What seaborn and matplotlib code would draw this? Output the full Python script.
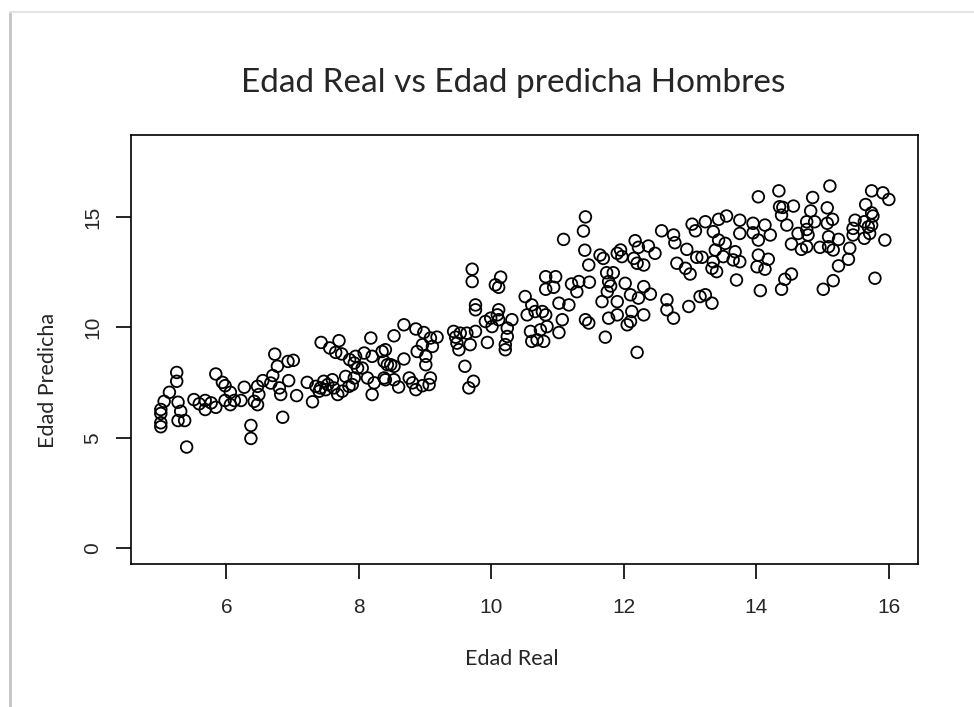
import seaborn as sns
import matplotlib.pyplot as plt
from matplotlib.lines import Line2D

# valores (edad real vs edad predicha, hombres)
edad_real = [
    5.25, 5.25, 5.84, 5.94, 5.98, 5.14, 5.06, 5.01, 5.01, 5.01, 5.01, 5.27, 5.31, 5.27, 5.37,
    5.51, 5.59, 5.68, 5.68, 5.77, 5.84, 5.98, 6.06, 6.06, 6.12, 6.22, 6.27, 6.42, 5.40, 6.37, 6.37,
    6.73, 6.77, 6.93, 7.01, 6.70, 6.55, 6.47, 6.49, 6.47, 6.67, 6.80, 6.82, 6.94, 7.06, 7.22,
    7.30, 7.35, 7.40, 7.42, 7.47, 7.50, 7.53, 7.60, 7.62, 7.68, 7.75, 7.80, 7.85, 7.90, 7.93,
    7.43, 7.70, 7.56, 7.65, 7.74, 7.86, 7.93, 7.95, 8.08, 8.18, 8.20, 7.98, 8.05, 8.13, 8.23,
    8.20, 8.35, 8.38, 8.38, 6.85,
    8.68, 8.53, 8.86, 8.98, 9.08, 9.18, 8.96, 8.88, 9.11, 9.01, 9.01, 8.40, 8.43, 8.48, 8.53,
    8.68, 8.40, 8.53, 8.60, 8.76, 8.81, 8.86, 8.96, 9.06, 9.08, 9.43, 9.46, 9.53, 9.63, 9.76,
    9.48, 9.51, 9.68, 9.94, 9.76, 9.76, 9.91, 9.99, 10.01, 10.09, 10.11, 9.60, 9.73, 9.66,
    9.71, 9.71,
    11.41, 11.64, 11.69, 11.90, 11.47, 10.14, 10.11, 10.06, 10.82, 10.97, 10.82, 10.94, 11.21,
    11.32, 11.48, 11.29, 11.74, 11.84, 11.77, 11.80, 11.75, 11.67, 11.90, 10.51, 10.61, 10.54,
    10.66, 10.77, 10.82, 10.84, 11.02, 11.17, 11.07, 11.02, 10.59, 10.74, 10.61, 10.69, 10.79,
    10.31, 10.24, 10.24, 10.21, 10.21, 10.11, 11.42, 11.47, 11.77, 11.90, 11.72,
    11.42, 11.39, 11.09,
    12.57, 12.75, 12.77, 13.03, 13.08, 13.23, 13.43, 13.55, 13.75, 13.35, 13.43, 13.53, 13.75,
    12.17, 11.95, 11.97, 12.22, 12.37, 12.47, 12.15, 12.20, 12.30, 12.95, 12.80, 12.93, 13.00,
    13.10, 13.18, 13.35, 13.33, 13.40, 13.38, 13.50, 13.68, 13.65, 13.75, 13.70, 12.02, 12.10,
    12.22, 12.30, 12.40, 12.05, 12.12, 12.10, 12.30, 12.65, 12.65, 12.75, 12.98, 13.15, 13.23,
    13.33, 12.20,
    14.03, 14.34, 15.11, 14.85, 14.35, 14.40, 14.56, 14.38, 14.46, 14.82, 15.07, 15.15, 15.07,
    14.88, 14.76, 14.63, 14.76, 14.78, 14.76, 14.68, 14.53, 14.96, 15.09, 15.09, 15.16, 15.24,
    15.41, 15.39, 15.24, 15.16, 15.01, 14.53, 14.43, 14.38, 14.06, 13.95, 13.95, 14.03, 14.13,
    14.21, 14.03, 14.18, 14.01, 14.13, 15.74, 15.91, 16.00, 15.65, 15.74, 15.76, 15.49, 15.46,
    15.46, 15.63, 15.69, 15.74, 15.71, 15.63, 15.94, 15.79,
]
edad_predicha = [
    7.96, 7.56, 7.89, 7.51, 7.36, 7.06, 6.65, 6.28, 6.10, 5.68, 5.50, 6.61, 6.20, 5.78, 5.78,
    6.73, 6.54, 6.69, 6.28, 6.58, 6.38, 6.69, 7.06, 6.50, 6.69, 6.69, 7.29, 6.65, 4.58, 5.56, 4.97,
    8.79, 8.24, 8.46, 8.51, 7.82, 7.59, 7.33, 6.96, 6.50, 7.48, 7.26, 6.96, 7.59, 6.91, 7.51,
    6.63, 7.33, 7.11, 7.26, 7.56, 7.18, 7.41, 7.63, 7.26, 6.96, 7.11, 7.78, 7.33, 7.41, 7.71,
    9.32, 9.40, 9.07, 8.87, 8.80, 8.54, 8.39, 8.69, 8.84, 9.52, 8.69, 8.16, 8.16, 7.71, 7.49,
    6.96, 8.91, 8.46, 7.71, 5.93,
    10.12, 9.62, 9.93, 9.77, 9.52, 9.56, 9.22, 8.91, 9.14, 8.69, 8.31, 8.99, 8.31, 8.31, 8.24,
    8.57, 7.63, 7.63, 7.30, 7.71, 7.49, 7.18, 7.36, 7.41, 7.71, 9.82, 9.56, 9.74, 9.74, 9.82,
    9.29, 8.99, 9.22, 9.32, 11.02, 10.80, 10.27, 10.42, 10.04, 10.57, 10.35, 8.24, 7.56, 7.26,
    12.64, 12.08,
    13.50, 13.28, 13.13, 13.36, 12.83, 12.28, 11.82, 11.93, 12.30, 12.30, 11.73, 11.82, 11.97,
    12.08, 12.05, 11.62, 12.48, 12.48, 12.08, 11.88, 11.62, 11.17, 11.17, 11.40, 11.02, 10.57,
    10.72, 10.72, 10.57, 10.04, 11.10, 11.02, 10.35, 9.77, 9.82, 9.89, 9.37, 9.44, 9.37,
    10.35, 9.97, 9.59, 9.22, 8.99, 10.80, 10.35, 10.20, 10.42, 10.57, 9.56,
    15.01, 14.37, 13.99,
    14.38, 14.19, 13.84, 14.68, 14.38, 14.79, 14.90, 15.05, 14.86, 14.34, 13.96, 13.81, 14.26,
    13.93, 13.51, 13.21, 13.63, 13.69, 13.36, 13.13, 12.91, 12.83, 13.54, 12.91, 12.68, 12.42,
    13.18, 13.18, 12.98, 12.68, 12.53, 13.51, 13.21, 13.43, 13.06, 12.98, 12.15, 12.00, 11.48,
    11.33, 11.85, 11.51, 10.12, 10.72, 10.27, 10.57, 11.25, 10.80, 10.42, 10.95, 11.40, 11.48,
    11.10, 8.87,
    15.92, 16.19, 16.41, 15.89, 15.47, 15.44, 15.50, 15.09, 14.64, 15.28, 15.42, 14.90, 14.72,
    14.79, 14.79, 14.26, 14.44, 14.19, 13.66, 13.54, 13.78, 13.63, 14.11, 13.66, 13.51, 13.99,
    13.59, 13.09, 12.79, 12.12, 11.73, 12.42, 12.18, 11.73, 11.67, 14.72, 14.29, 13.96, 14.64,
    14.19, 13.28, 13.09, 12.75, 12.64, 16.19, 16.10, 15.80, 15.57, 15.19, 15.05, 14.86, 14.49,
    14.19, 14.79, 14.56, 14.64, 14.26, 14.04, 13.96, 12.23,
]

x_ticks = [6, 8, 10, 12, 14, 16]
y_ticks = [0, 5, 10, 15]

sns.set_style("white")
plt.rcParams['font.family'] = ['Liberation Sans', 'DejaVu Sans']

fig = plt.figure(figsize=(9.74, 7.07), dpi=100)
ax = fig.add_axes([0.1345, 0.2023, 0.808, 0.6067])

sns.scatterplot(x=edad_real, y=edad_predicha, ax=ax, marker='o', s=70,
                facecolor='none', edgecolor='black', linewidth=1.3)

ax.set_xlim(4.56, 16.44)
ax.set_ylim(-0.72, 18.72)
ax.set_xticks(x_ticks)
ax.set_yticks(y_ticks)
ax.set_xticklabels([str(t) for t in x_ticks], fontsize=15)
ax.set_yticklabels([str(t) for t in y_ticks], fontsize=15, rotation=90, va='center')
ax.tick_params(axis='both', length=10.5, width=1.2, color='black', direction='out',
               bottom=True, left=True)
ax.tick_params(axis='x', pad=14)
ax.tick_params(axis='y', pad=10)
for sp in ax.spines.values():
    sp.set_visible(True)
    sp.set_color('black')
    sp.set_linewidth(1.2)

ax.set_xlabel('Edad Real', family='Lato', fontsize=15.5)
ax.set_ylabel('Edad Predicha', family='Lato', fontsize=15.5)
ax.xaxis.set_label_coords(0.484, -0.221)
ax.yaxis.set_label_coords(-0.105, 0.427)
ax.xaxis.label.set_va('center')
ax.yaxis.label.set_va('center')

fig.text(513 / 974, 1 - 83 / 707, 'Edad Real vs Edad predicha Hombres',
         family='Lato', fontsize=24, ha='center', va='center')

# borde gris del recuadro de la captura
fig.add_artist(Line2D([10 / 974, 10 / 974], [0, 1 - 13 / 707], color='#c4c4c4', lw=2))
fig.add_artist(Line2D([10 / 974, 1], [1 - 12 / 707, 1 - 12 / 707], color='#e4e4e4', lw=1.5))

plt.savefig('out.png', dpi=100)
